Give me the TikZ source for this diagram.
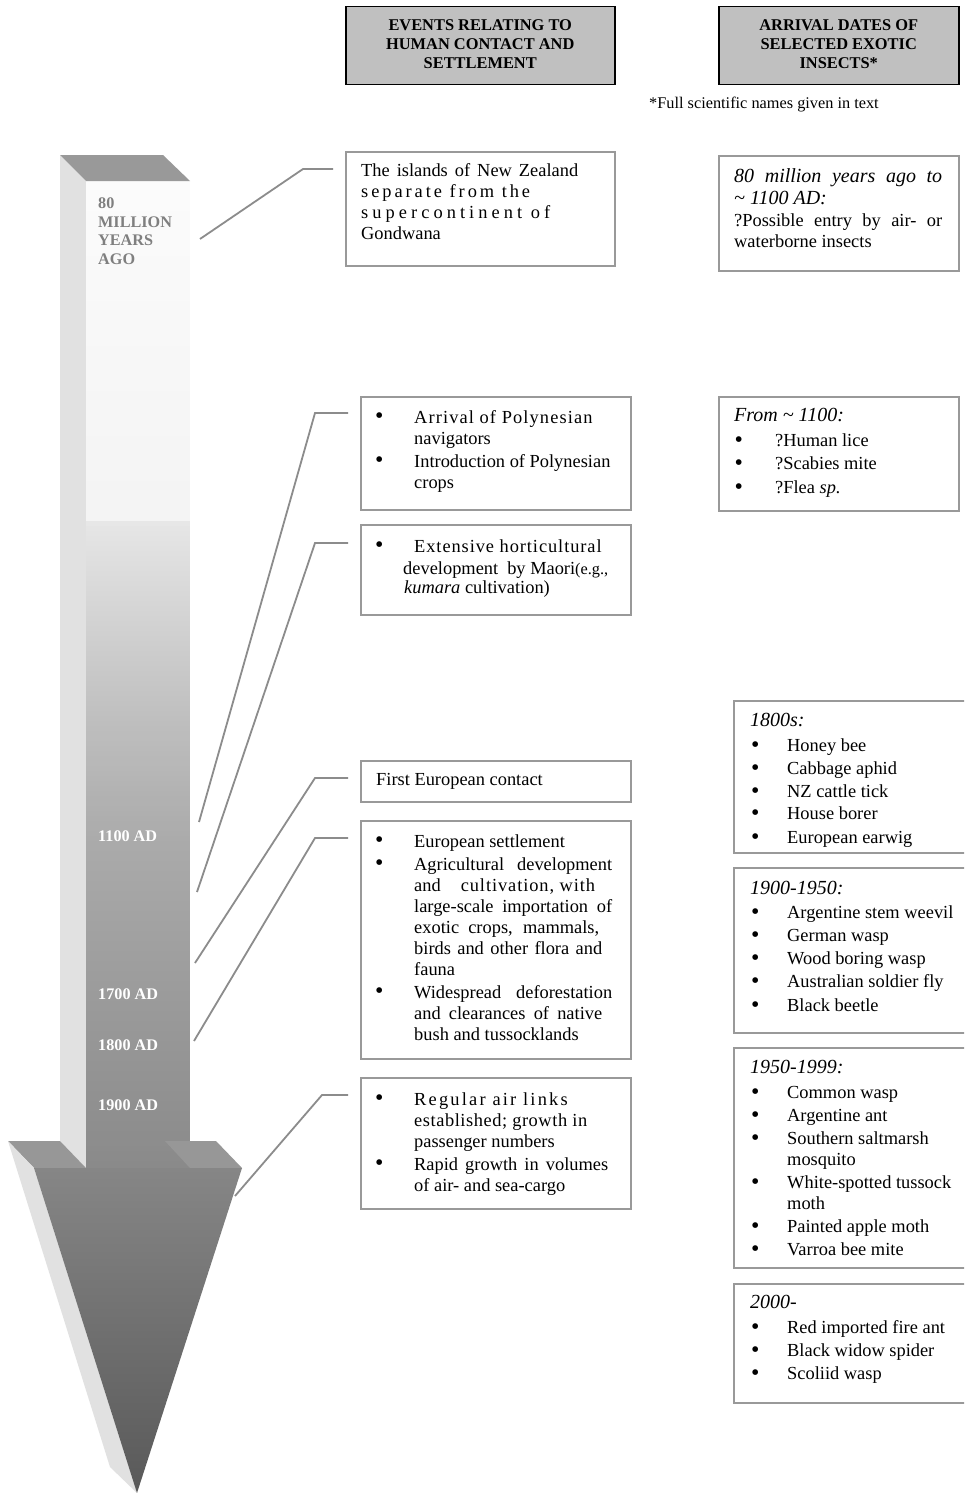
\documentclass[tikz,border=0pt]{standalone}
\usepackage{fontspec}
\setmainfont{Liberation Serif}
\usetikzlibrary{calc}
\definecolor{hdrfill}{HTML}{C0C0C0}
\definecolor{boxline}{HTML}{999999}
\definecolor{connline}{HTML}{8C8C8C}
\definecolor{sideface}{HTML}{E1E1E1}
\definecolor{topface}{HTML}{999999}
\definecolor{ledgeface}{HTML}{979797}
\definecolor{headtop}{HTML}{868686}
\definecolor{headbot}{HTML}{595959}
\definecolor{lblgray}{HTML}{7F7F7F}
\newcommand{\bigbul}{\raisebox{-0.4pt}{\scalebox{1.3}{\textbullet}}}
\newcommand{\bul}[1]{\makebox[#1][l]{\bigbul}}
\newcommand{\hd}[1]{{\fontsize{20}{21}\selectfont\itshape #1}}
\newcommand{\jst}[2]{\makebox[#1][s]{#2}}
\newcommand{\lsp}[2]{{\addfontfeature{LetterSpace=#1}#2}}
\newcommand{\rbul}{\hspace*{1pt}\makebox[36pt][l]{\bigbul}}
\newcommand{\rind}{\hspace*{37pt}}
\tikzset{
  hdrbox/.style={draw=black, line width=1.5pt, fill=hdrfill, anchor=north west, inner sep=0pt, align=center, font=\bfseries\fontsize{16.4}{19}\selectfont},
  infobox/.style={draw=boxline, line width=1.8pt, fill=white, anchor=north west, inner sep=0pt},
  txt/.style={anchor=north west, inner sep=0pt, align=left, font=\fontsize{18.4}{21}\selectfont},
  conn/.style={draw=connline, line width=1.8pt, shorten >=12pt},
  datelbl/.style={anchor=base west, inner sep=0pt, text=white, font=\bfseries\fontsize{16.2}{18.5}\selectfont},
}
\begin{document}
\begin{tikzpicture}[x=1pt,y=-1pt]
\useasboundingbox (0,0) rectangle (964,1493);
\clip (0,0) rectangle (964,1493);
\fill[white] (0,0) rectangle (964,1493);

% ---------- time arrow ----------
\fill[sideface] (60,155) -- (86,181) -- (86,1168) -- (60,1141) -- cycle;
\begin{scope}
  \clip (86,181) rectangle (190,1168);
  \foreach \yy in {181,186,...,1166} {
    \pgfmathsetmacro{\g}{\yy<520 ? 0.985-0.03*(\yy-181)/339 : (\yy<700 ? 0.905-0.145*(\yy-520)/180 : (\yy<836 ? 0.76-0.09*(\yy-700)/136 : 0.67-0.13*(\yy-836)/332))}
    \definecolor{bandc}{gray}{\g}
    \fill[bandc] (86,\yy) rectangle (190,\yy+5.6);
  }
\end{scope}
\fill[topface] (60,155) -- (163,155) -- (190,181) -- (86,181) -- cycle;
\fill[ledgeface] (8,1141) -- (60,1141) -- (86,1168) -- (34,1168) -- cycle;
\fill[ledgeface] (165,1141) -- (216,1141) -- (242,1168) -- (190,1168) -- cycle;
\fill[sideface] (8,1141) -- (34,1168) -- (137,1493) -- (110,1467) -- cycle;
\shade[top color=headtop, bottom color=headbot] (34,1168) -- (242,1168) -- (137,1493) -- cycle;

\node[anchor=north west, inner sep=0pt, align=left, text=lblgray, font=\bfseries\fontsize{16.2}{18.5}\selectfont] (L80) at (98,195.5) {\strut 80\\MILLION\\YEARS\\AGO};
\node[datelbl] (L1100) at (98,841.5) {1100 AD};
\node[datelbl] (L1700) at (98,999.5) {1700 AD};
\node[datelbl] (L1800) at (98,1050.5) {1800 AD};
\node[datelbl] (L1900) at (98,1110.5) {1900 AD};

% ---------- headers ----------
\node[hdrbox, minimum width=269pt, minimum height=78pt] (H1) at (345,6) {\strut EVENTS RELATING TO\\HUMAN CONTACT AND\\SETTLEMENT\strut};
\node[hdrbox, minimum width=240pt, minimum height=78pt] (H2) at (718,6) {\strut ARRIVAL DATES OF\\SELECTED EXOTIC\\INSECTS*\strut};
\node[anchor=base west, inner sep=0pt, font=\fontsize{16.3}{19}\selectfont] (fn) at (649,108.5) {*Full scientific names given in text};

% ---------- event boxes ----------
\node[infobox, minimum width=269pt, minimum height=114pt] (B1) at (345,151) {};
\node[txt] (T1) at (361,161.3) {\strut\jst{217pt}{The islands of New Zealand}\\
\lsp{16}{separate from the}\\
\lsp{22}{supercontinent of}\\
Gondwana};

\node[infobox, minimum width=270pt, minimum height=113pt] (B2) at (360,396) {};
\node[txt] (T2) at (375,408.3) {\strut\bul{39pt}\lsp{6}{Arrival of Polynesian}\\
\hspace*{39pt}navigators\\[2pt]
\bul{39pt}Introduction of Polynesian\\
\hspace*{39pt}crops};

\node[infobox, minimum width=270pt, minimum height=90pt] (B3) at (360,524) {};
\node[txt] (T3) at (375,537.3) {\strut\bul{39pt}\lsp{5}{Extensive horticultural}\\[1pt]
\hspace*{28pt}development\hspace{9pt}by Maori{\fontsize{16.3}{21}\selectfont(e.g.,}\\[-2pt]
\hspace*{29pt}\textit{kumara} cultivation)};

\node[infobox, minimum width=270pt, minimum height=41pt] (B4) at (360,760) {};
\node[txt] (T4) at (376,770.3) {\strut First European contact};

\node[infobox, minimum width=270pt, minimum height=238pt] (B5) at (360,820) {};
\node[txt] (T5) at (375,832.3) {\strut\bul{39pt}European settlement\\[2pt]
\bul{39pt}\jst{198pt}{Agricultural development}\\
\hspace*{39pt}and\hspace{20pt}\lsp{5}{cultivation, with}\\
\hspace*{39pt}\jst{198pt}{large-scale importation of}\\
\hspace*{39pt}\jst{185pt}{exotic crops, mammals,}\\
\hspace*{39pt}\jst{188pt}{birds and other flora and}\\
\hspace*{39pt}fauna\\[2pt]
\bul{39pt}\jst{198pt}{Widespread deforestation}\\
\hspace*{39pt}\jst{188pt}{and clearances of native}\\
\hspace*{39pt}bush and tussocklands};

\node[infobox, minimum width=270pt, minimum height=131pt] (B6) at (360,1077) {};
\node[txt] (T6) at (375,1090.3) {\strut\bul{39pt}\lsp{12}{Regular air links}\\
\hspace*{39pt}\lsp{3}{established; growth in}\\
\hspace*{39pt}passenger numbers\\[2pt]
\bul{39pt}\jst{194pt}{Rapid growth in volumes}\\
\hspace*{39pt}of air- and sea-cargo};

% ---------- insect boxes ----------
\node[infobox, minimum width=240pt, minimum height=115pt] (R1) at (718,155) {};
\node[txt] (U1) at (734,167.8) {\strut\hd{\jst{208pt}{80 million years ago to}}\\[1pt]
\hd{\textasciitilde{} 1100 AD:}\\[1pt]
\jst{208pt}{?Possible entry by air- or}\\
waterborne insects};

\node[infobox, minimum width=240pt, minimum height=114pt] (R2) at (718,396) {};
\node[txt] (U2) at (734,406.8) {\strut\hd{From \textasciitilde{} 1100:}\\[4pt]
\hspace*{0.5pt}\makebox[40.5pt][l]{\bigbul}?Human lice\\[2pt]
\hspace*{0.5pt}\makebox[40.5pt][l]{\bigbul}?Scabies mite\\[3pt]
\hspace*{0.5pt}\makebox[40.5pt][l]{\bigbul}?Flea \textit{sp.}};

\node[infobox, minimum width=260pt, minimum height=152pt] (R3) at (733,700) {};
\begin{scope}
\clip (733,700) rectangle (964,846);
\node[txt] (U3) at (750,711.8) {\strut\hd{1800s:}\\[4pt]
\rbul Honey bee\\[2pt]
\rbul Cabbage aphid\\[2pt]
\rbul NZ cattle tick\\[1pt]
\rbul House borer\\[3pt]
\rbul European earwig};
\end{scope}

\node[infobox, minimum width=260pt, minimum height=165pt] (R4) at (733,867) {};
\node[txt] (U4) at (750,879.8) {\strut\hd{1900-1950:}\\[3pt]
\rbul Argentine stem weevil\\[2pt]
\rbul German wasp\\[2pt]
\rbul Wood boring wasp\\[2pt]
\rbul Australian soldier fly\\[3pt]
\rbul Black beetle};

\node[infobox, minimum width=260pt, minimum height=220pt] (R5) at (733,1047) {};
\node[txt] (U5) at (750,1058.8) {\strut\hd{1950-1999:}\\[4pt]
\rbul Common wasp\\[2pt]
\rbul Argentine ant\\[2pt]
\rbul Southern saltmarsh\\
\rind mosquito\\[2pt]
\rbul White-spotted tussock\\
\rind moth\\[2pt]
\rbul Painted apple moth\\[2pt]
\rbul Varroa bee mite};

\node[infobox, minimum width=260pt, minimum height=119pt] (R6) at (733,1283) {};
\node[txt] (U6) at (750,1293.8) {\strut\hd{2000-}\\[4pt]
\rbul Red imported fire ant\\[2pt]
\rbul Black widow spider\\[2pt]
\rbul Scoliid wasp};

% ---------- connectors ----------
\coordinate (c1a) at (200,239);  \coordinate (c1b) at (303,169);
\coordinate (c2a) at (199,822);  \coordinate (c2b) at (315,413);
\coordinate (c3a) at (197,892);  \coordinate (c3b) at (315,543);
\coordinate (c4a) at (195,963);  \coordinate (c4b) at (315,778);
\coordinate (c5a) at (194,1041); \coordinate (c5b) at (315,838);
\coordinate (c6a) at (235,1196); \coordinate (c6b) at (322,1095);
\draw[conn] (c1a) -- (c1b) -- (c1b -| B1.west);
\draw[conn] (c2a) -- (c2b) -- (c2b -| B2.west);
\draw[conn] (c3a) -- (c3b) -- (c3b -| B3.west);
\draw[conn] (c4a) -- (c4b) -- (c4b -| B4.west);
\draw[conn] (c5a) -- (c5b) -- (c5b -| B5.west);
\draw[conn] (c6a) -- (c6b) -- (c6b -| B6.west);
\end{tikzpicture}
\end{document}
